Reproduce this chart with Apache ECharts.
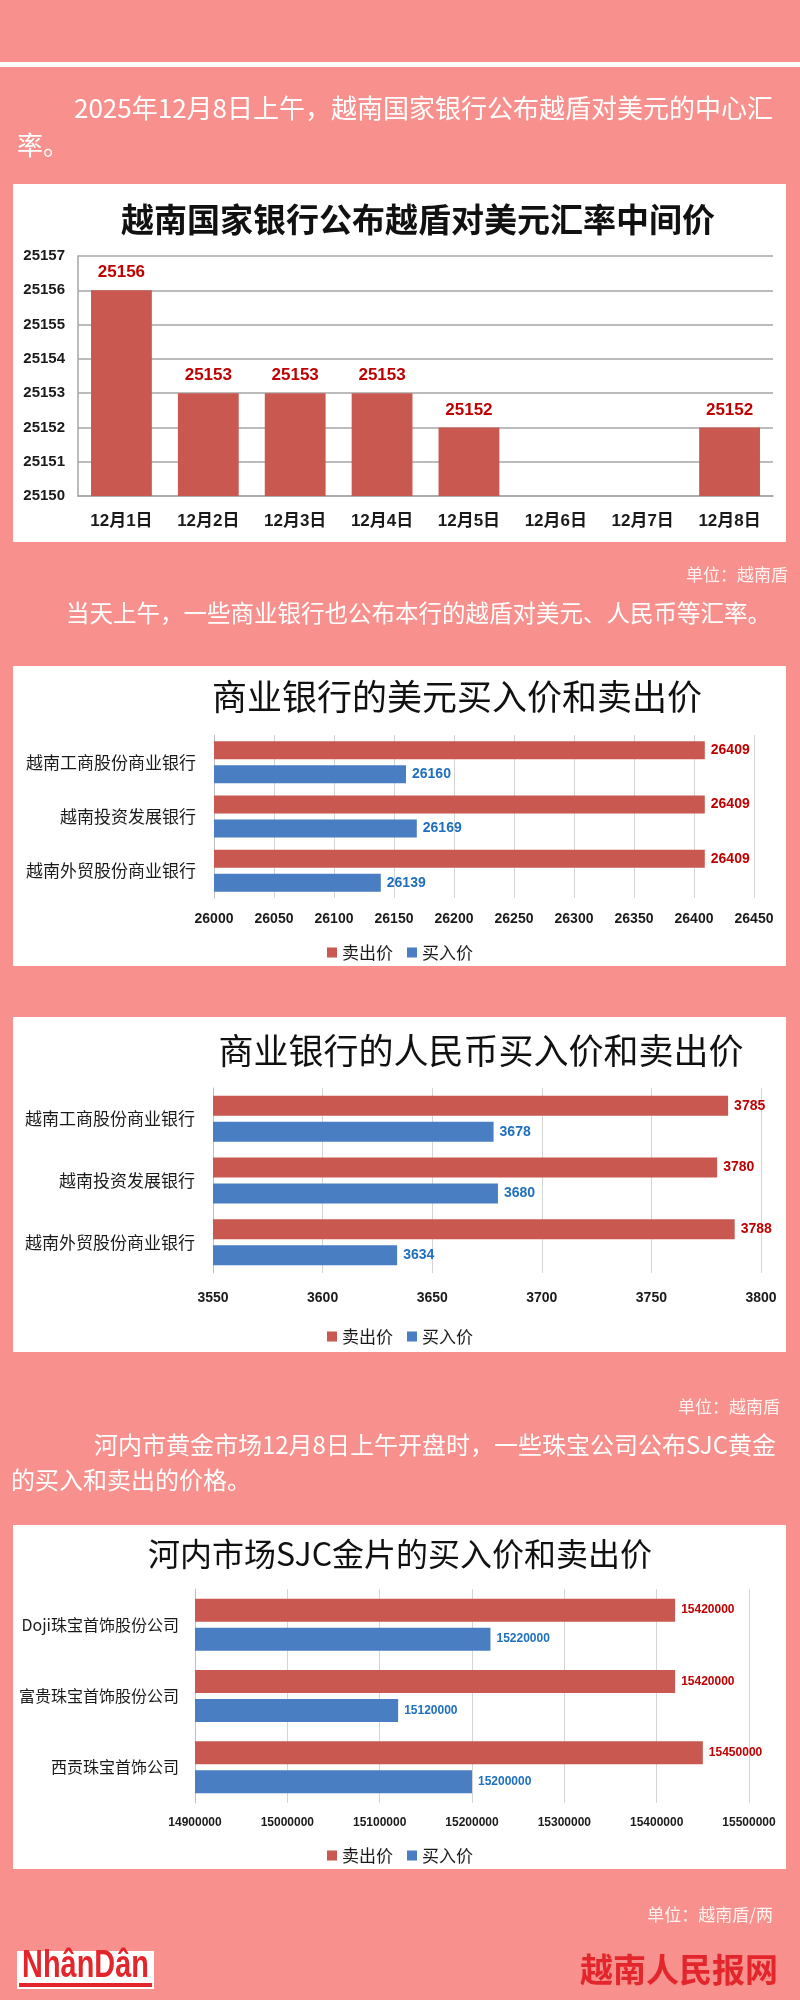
<!DOCTYPE html>
<html>
<head>
<meta charset="utf-8">
<script src="https://cdn.jsdelivr.net/npm/echarts@6/dist/echarts.min.js"></script>
<style>
html,body{margin:0;padding:0;background:#F8918D;}
#c{width:800px;height:2000px;}
</style>
</head>
<body>
<div id="c"></div>
<script>
// ---------- data ----------
const days = ['12月1日','12月2日','12月3日','12月4日','12月5日','12月6日','12月7日','12月8日'];
const midRate = [25156, 25153, 25153, 25153, 25152, null, null, 25152];

const seriesNames = ['卖出价', '买入价'];

const usdBanks = ['越南工商股份商业银行', '越南投资发展银行', '越南外贸股份商业银行'];
const usdSell = [26409, 26409, 26409];
const usdBuy = [26160, 26169, 26139];

const cnyBanks = ['越南工商股份商业银行', '越南投资发展银行', '越南外贸股份商业银行'];
const cnySell = [3785, 3780, 3788];
const cnyBuy = [3678, 3680, 3634];

const goldShops = ['Doji珠宝首饰股份公司', '富贵珠宝首饰股份公司', '西贡珠宝首饰公司'];
const goldSell = [15420000, 15420000, 15450000];
const goldBuy = [15220000, 15120000, 15200000];

const titles = [
  '越南国家银行公布越盾对美元汇率中间价',
  '商业银行的美元买入价和卖出价',
  '商业银行的人民币买入价和卖出价',
  '河内市场SJC金片的买入价和卖出价'
];
const texts = {
  p1a: '2025年12月8日上午，越南国家银行公布越盾对美元的中心汇',
  p1b: '率。',
  unit1: '单位：越南盾',
  p2: '当天上午，一些商业银行也公布本行的越盾对美元、人民币等汇率。',
  unit2: '单位：越南盾',
  p3a: '河内市黄金市场12月8日上午开盘时，一些珠宝公司公布SJC黄金',
  p3b: '的买入和卖出的价格。',
  unit3: '单位：越南盾/两',
  logo: 'NhânDân',
  site: '越南人民报网'
};

// ---------- styles ----------
const CJK = "'Noto Sans CJK SC', 'Noto Sans', sans-serif";
const NUM = "'Liberation Sans', Arial, 'Noto Sans CJK SC', sans-serif";
const RED = '#C95850';
const BLUE = '#4A7EC2';
const RED_T = '#C00000';
const BLUE_T = '#1F6FBF';
const GRID_C = '#D4D4D4';
const plain = v => String(v);

const chart = echarts.init(document.getElementById('c'), null, {renderer: 'canvas'});

function hBarAxes(idx, cats, min, max, interval, numSize, catSize, catMargin, numMargin) {
  return {
    x: {
      type: 'value', gridIndex: idx, min: min, max: max, interval: interval,
      axisLine: {show: false}, axisTick: {show: false},
      splitLine: {show: true, lineStyle: {color: GRID_C, width: 1}},
      axisLabel: {fontFamily: NUM, fontWeight: 'bold', fontSize: numSize, color: '#1a1a1a', margin: numMargin, formatter: plain}
    },
    y: {
      type: 'category', gridIndex: idx, data: cats, inverse: true,
      axisLine: {show: true, lineStyle: {color: '#BFBFBF', width: 1}},
      axisTick: {show: false},
      axisLabel: {fontFamily: CJK, fontSize: catSize, color: '#1a1a1a', margin: catMargin}
    }
  };
}

const a2 = hBarAxes(1, usdBanks, 26000, 26450, 50, 14, 17, 18, 14);
const a3 = hBarAxes(2, cnyBanks, 3550, 3800, 50, 14, 17, 18, 18);
const a4 = hBarAxes(3, goldShops, 14900000, 15500000, 100000, 12, 16, 16, 14);

function barSeries(name, data, idx, color, labelColor, width, gap, labelSize) {
  return {
    type: 'bar', name: name, data: data, xAxisIndex: idx, yAxisIndex: idx,
    barWidth: width, barGap: gap,
    itemStyle: {color: color},
    label: {show: true, position: 'right', distance: 6, color: labelColor,
            fontFamily: NUM, fontWeight: 'bold', fontSize: labelSize}
  };
}

function legendAt(top) {
  return {
    data: seriesNames, left: 'center', top: top, icon: 'rect',
    itemWidth: 10, itemHeight: 10, itemGap: 14,
    textStyle: {fontFamily: CJK, fontSize: 17, color: '#1a1a1a'}
  };
}

function titleAt(text, cx, top, size, weight) {
  return {
    text: text, left: cx, top: top, textAlign: 'center', padding: 0,
    textStyle: {fontFamily: CJK, fontSize: size, fontWeight: weight, color: '#111'}
  };
}

const box = (y, h) => ({type: 'rect', z: -10, shape: {x: 13, y: y, width: 773, height: h}, style: {fill: '#ffffff'}});
const txt = (x, y, t, font, fill, align) => ({
  type: 'text', z: 5, x: x, y: y,
  style: {text: t, font: font, fill: fill, textAlign: align || 'left', textVerticalAlign: 'middle'}
});

const option = {
  backgroundColor: '#F8918D',
  animation: false,
  title: [
    titleAt(titles[0], 418, 203, 33, 'bold'),
    titleAt(titles[1], 457, 679, 35, 'normal'),
    titleAt(titles[2], 481, 1033, 35, 'normal'),
    titleAt(titles[3], 400, 1538, 32, 'normal')
  ],
  legend: [legendAt(939), legendAt(1323), legendAt(1842)],
  grid: [
    {left: 78, top: 256, width: 695, height: 240},
    {left: 214, top: 735, width: 540, height: 163},
    {left: 213, top: 1088, width: 548, height: 185},
    {left: 195, top: 1589, width: 554, height: 214}
  ],
  xAxis: [
    {
      type: 'category', gridIndex: 0, data: days,
      axisLine: {show: true, lineStyle: {color: '#A6A6A6', width: 1.5}},
      axisTick: {show: false},
      axisLabel: {fontFamily: NUM, fontWeight: 'bold', fontSize: 17, color: '#1a1a1a', margin: 17}
    },
    a2.x, a3.x, a4.x
  ],
  yAxis: [
    {
      type: 'value', gridIndex: 0, min: 25150, max: 25157, interval: 1,
      axisLine: {show: true, lineStyle: {color: '#A6A6A6', width: 1.5}},
      axisTick: {show: false},
      splitLine: {show: true, lineStyle: {color: '#A6A6A6', width: 1.5}},
      axisLabel: {fontFamily: NUM, fontWeight: 'bold', fontSize: 15, color: '#1a1a1a', margin: 13, formatter: plain}
    },
    a2.y, a3.y, a4.y
  ],
  series: [
    {
      type: 'bar', name: '中间价', data: midRate, xAxisIndex: 0, yAxisIndex: 0,
      barCategoryGap: '30%',
      itemStyle: {color: RED},
      label: {show: true, position: 'top', distance: 9, color: RED_T,
              fontFamily: NUM, fontWeight: 'bold', fontSize: 17}
    },
    barSeries(seriesNames[0], usdSell, 1, RED, RED_T, 18, '33%', 14),
    barSeries(seriesNames[1], usdBuy, 1, BLUE, BLUE_T, 18, '33%', 14),
    barSeries(seriesNames[0], cnySell, 2, RED, RED_T, 20, '30%', 14),
    barSeries(seriesNames[1], cnyBuy, 2, BLUE, BLUE_T, 20, '30%', 14),
    barSeries(seriesNames[0], goldSell, 3, RED, RED_T, 23, '26%', 12),
    barSeries(seriesNames[1], goldBuy, 3, BLUE, BLUE_T, 23, '26%', 12)
  ],
  graphic: {
    elements: [
      {type: 'rect', z: -10, shape: {x: 0, y: 62, width: 800, height: 5}, style: {fill: '#ffffff'}},
      box(184, 358),
      box(666, 300),
      box(1017, 335),
      box(1525, 344),
      txt(74, 108, texts.p1a, "26px " + CJK, '#ffffff'),
      txt(17, 145, texts.p1b, "26px " + CJK, '#ffffff'),
      txt(788, 575, texts.unit1, "17px " + CJK, '#FFF2F0', 'right'),
      txt(66, 613, texts.p2, "23.5px " + CJK, '#ffffff'),
      txt(780, 1407, texts.unit2, "17px " + CJK, '#FFF2F0', 'right'),
      txt(776, 1445, texts.p3a, "24px " + CJK, '#ffffff', 'right'),
      txt(11, 1480, texts.p3b, "24px " + CJK, '#ffffff'),
      txt(773, 1915, texts.unit3, "17px " + CJK, '#FFF2F0', 'right'),
      {type: 'rect', z: 1, shape: {x: 17, y: 1951, width: 137, height: 38}, style: {fill: '#ffffff'}},
      {type: 'rect', z: 2, shape: {x: 19, y: 1983, width: 133, height: 4}, style: {fill: '#E3262B'}},
      {
        type: 'text', z: 5, x: 85.5, y: 1967, scaleX: 0.76,
        style: {text: texts.logo, font: "bold 38px 'Liberation Sans', Arial, sans-serif",
                fill: '#E3262B', textAlign: 'center', textVerticalAlign: 'middle'}
      },
      txt(778, 1969, texts.site, "bold 33px " + CJK, '#E3262B', 'right')
    ]
  }
};

chart.setOption(option);
</script>
</body>
</html>
